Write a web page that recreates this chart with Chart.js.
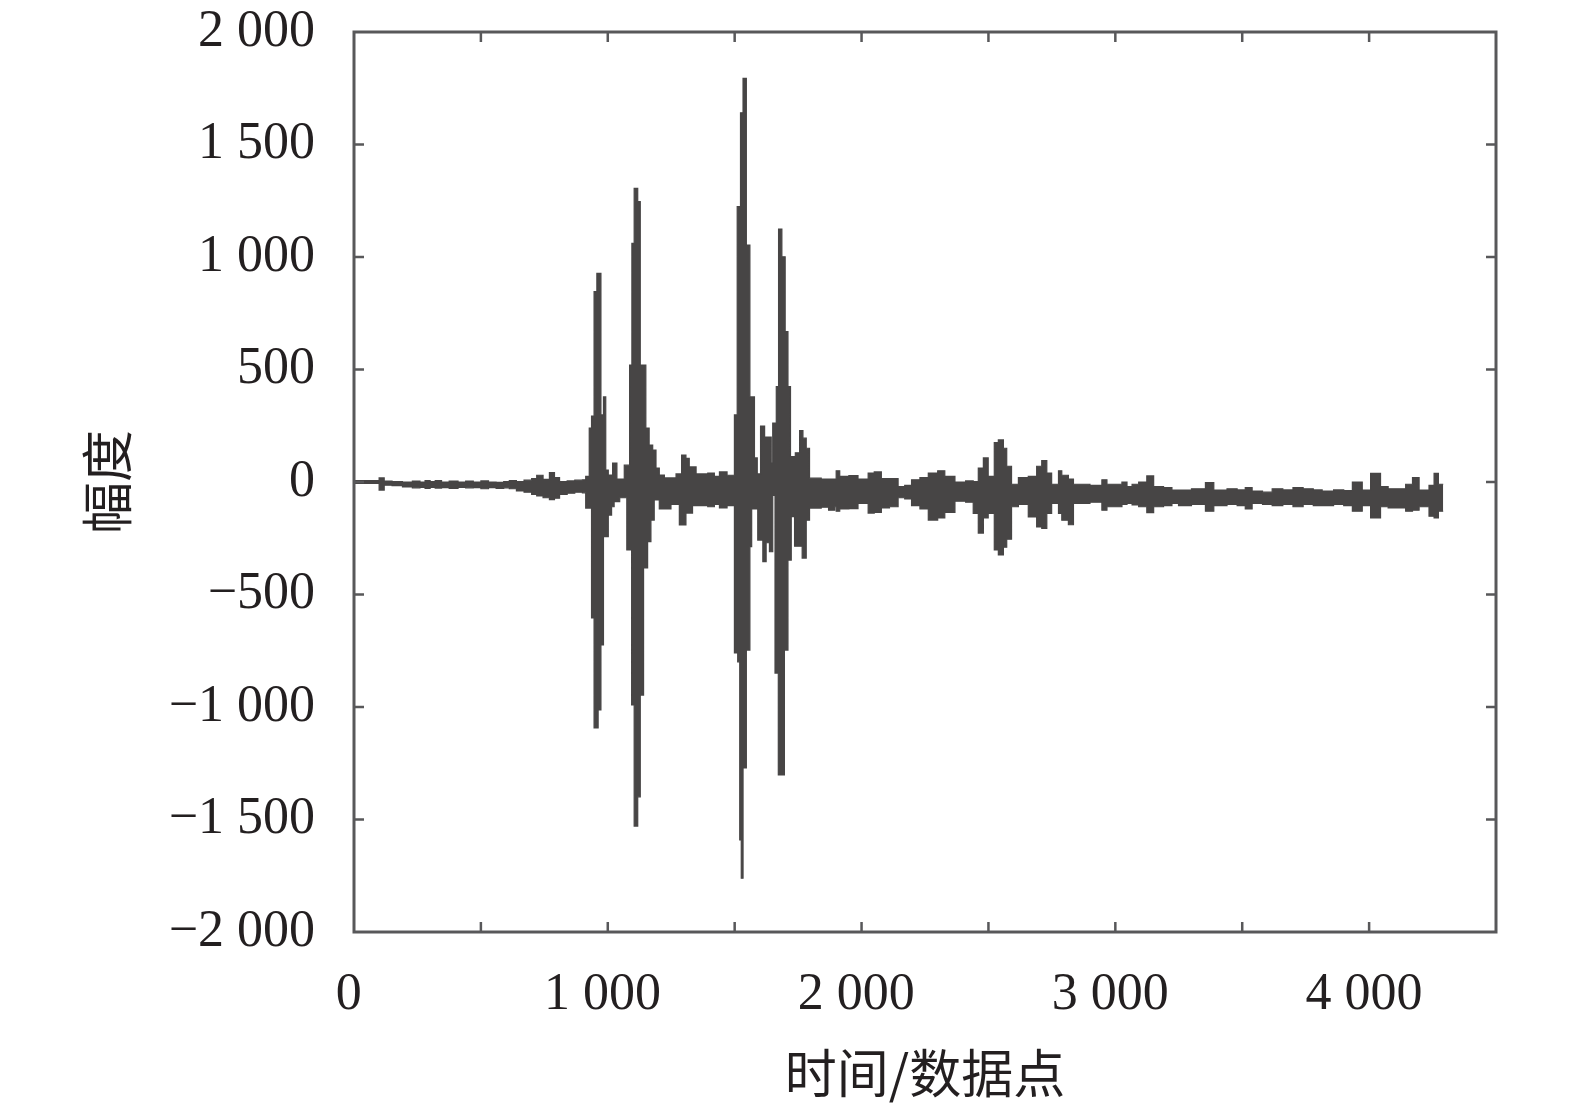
<!DOCTYPE html>
<html>
<head>
<meta charset="utf-8">
<script src="https://cdn.jsdelivr.net/npm/chart.js@4.4.1/dist/chart.umd.min.js"></script>
<style>
  html, body { margin: 0; padding: 0; background: #ffffff; }
  #wrap { width: 1575px; height: 1112px; }
</style>
</head>
<body>
<div id="wrap"><canvas id="c" width="1575" height="1112"></canvas></div>
<script>
// Sample index (time / data point) of each envelope breakpoint
const sampleIndex = [
  0,99,119,150,191,230,260,280,300,320,
  345,375,410,440,470,500,530,560,590,612,
  640,670,700,720,745,770,790,810,840,870,
  900,913,927,936,946,957,962,973,983,992,
  1002,1015,1019,1025,1036,1047,1065,1075,1086,1094,
  1095,1104,1118,1128,1141,1150,1157,1163,1170,1177,
  1183,1190,1203,1223,1249,1269,1282,1291,1308,1321,
  1334,1348,1394,1420,1440,1470,1499,1510,1512,1520,
  1523,1526,1533,1546,1560,1567,1578,1589,1591,1602,
  1611,1618,1624,1637,1644,1650,1659,1664,1672,1673,
  1686,1696,1699,1710,1720,1723,1736,1739,1756,1766,
  1769,1782,1795,1841,1870,1894,1900,1914,1950,1986,
  2026,2050,2078,2110,2144,2170,2197,2230,2263,2300,
  2328,2368,2410,2440,2460,2480,2499,2523,2539,2559,
  2572,2591,2618,2657,2690,2710,2730,2749,2776,2789,
  2815,2835,2855,2900,2947,2967,3026,3046,3066,3092,
  3124,3151,3190,3223,3249,3300,3355,3388,3440,3480,
  3512,3539,3580,3618,3660,3700,3740,3780,3815,3860,
  3900,3934,3973,4006,4045,4075,4105,4144,4171,4197,
  4236,4256,4273,4292
];
// Upper envelope (max amplitude) of the waveform over each step
const upperEnvelope = [
  6,18,4,2,0,4,0,6,2,6,
  0,4,0,4,0,5,0,-2,2,6,
  2,8,15,30,12,42,20,2,5,8,
  10,25,240,293,846,927,927,298,378,53,
  31,31,84,84,13,13,75,75,520,520,
  1061,1305,1246,520,520,240,240,164,164,142,
  142,62,31,18,18,36,36,120,105,67,
  67,36,40,25,45,30,298,1224,1224,1224,
  1641,1641,1794,1053,378,378,107,36,36,249,
  249,200,200,200,84,262,262,424,424,1124,
  1001,1001,668,424,113,113,113,130,228,228,
  195,150,17,13,13,13,50,25,28,13,
  40,45,15,15,-20,-15,10,20,40,50,
  25,0,5,2,62,107,25,175,187,150,
  70,-10,20,25,70,95,40,-10,50,30,
  13,-10,-10,-15,10,-10,0,-20,-10,0,
  27,-20,-25,-36,-36,-30,-3,-36,-30,-35,
  -25,-40,-45,-30,-35,-25,-30,-35,-40,-35,
  -38,0,-36,38,-20,-30,-30,-10,20,-36,
  -15,38,-10,-10
];
// Lower envelope (min amplitude) of the waveform over each step
const lowerEnvelope = [
  -6,-36,-14,-16,-22,-26,-24,-28,-24,-27,
  -25,-28,-24,-26,-25,-30,-25,-28,-26,-30,
  -40,-45,-55,-62,-70,-78,-72,-55,-50,-45,
  -48,-116,-116,-604,-1093,-1093,-1013,-724,-243,-243,
  -147,-110,-110,-87,-87,-70,-70,-302,-302,-991,
  -991,-1529,-1399,-947,-382,-382,-265,-265,-169,-169,
  -80,-80,-120,-120,-100,-100,-191,-191,-138,-138,
  -105,-105,-110,-100,-115,-105,-760,-760,-799,-1591,
  -1591,-1761,-1271,-747,-287,-120,-120,-120,-258,-258,
  -354,-354,-270,-310,-310,-60,-849,-849,-1302,-1302,
  -1302,-747,-747,-347,-347,-154,-285,-285,-285,-338,
  -338,-170,-116,-112,-125,-110,-130,-120,-118,-95,
  -138,-135,-115,-110,-70,-75,-105,-120,-169,-160,
  -135,-85,-90,-140,-227,-160,-140,-302,-324,-290,
  -254,-110,-100,-155,-200,-206,-140,-95,-140,-170,
  -190,-95,-95,-90,-125,-110,-100,-95,-102,-110,
  -136,-110,-105,-95,-105,-100,-130,-105,-100,-105,
  -120,-95,-100,-105,-100,-110,-100,-105,-105,-100,
  -105,-130,-105,-160,-110,-115,-115,-130,-125,-110,
  -152,-160,-130,-130
];
const xTickValues = [0, 1000, 2000, 3000, 4000];
const xTickMarks = [0, 500, 1000, 1500, 2000, 2500, 3000, 3500, 4000, 4500];
const yTickValues = [-2000, -1500, -1000, -500, 0, 500, 1000, 1500, 2000];
const xTitle = '时间/数据点';
const yTitle = '幅度';

const WAVE = '#474545';
const TEXT = '#231f20';
const FRAME = '#58585a';
const SERIF = '"Liberation Serif", "DejaVu Serif", serif';
const CJK = '"Noto Sans CJK SC", "Noto Sans", sans-serif';

function fmt(v) {
  const s = Math.abs(v).toString().replace(/\B(?=(\d{3})+(?!\d))/g, ' ');
  return (v < 0 ? '\u2212' : '') + s;
}

const n = Math.min(sampleIndex.length, upperEnvelope.length, lowerEnvelope.length);
const upperPts = [], lowerPts = [];
for (let i = 0; i < n; i++) {
  upperPts.push({ x: sampleIndex[i], y: upperEnvelope[i] });
  lowerPts.push({ x: sampleIndex[i], y: lowerEnvelope[i] });
}

const frameTicks = {
  id: 'frameTicks',
  afterDatasetsDraw(chart) {
    const { ctx, chartArea: a, scales } = chart;
    const xs = scales.x, ys = scales.y;
    const L = 10;
    ctx.save();
    ctx.strokeStyle = FRAME;
    ctx.lineWidth = 2.5;
    ctx.beginPath();
    xs.ticks.forEach(t => {
      const p = xs.getPixelForValue(t.value);
      if (p <= a.left + 1 || p >= a.right - 1) return;
      ctx.moveTo(p, a.bottom); ctx.lineTo(p, a.bottom - L);
      ctx.moveTo(p, a.top); ctx.lineTo(p, a.top + L);
    });
    ys.ticks.forEach(t => {
      const p = ys.getPixelForValue(t.value);
      if (p <= a.top + 1 || p >= a.bottom - 1) return;
      ctx.moveTo(a.left, p); ctx.lineTo(a.left + L, p);
      ctx.moveTo(a.right, p); ctx.lineTo(a.right - L, p);
    });
    ctx.stroke();
    ctx.lineWidth = 3;
    ctx.strokeRect(a.left, a.top, a.right - a.left, a.bottom - a.top);
    ctx.restore();
  }
};

new Chart(document.getElementById('c'), {
  type: 'line',
  data: {
    datasets: [
      { label: 'upper', data: upperPts, stepped: true, fill: '+1',
        borderColor: WAVE, backgroundColor: WAVE, borderWidth: 1.2, pointRadius: 0 },
      { label: 'lower', data: lowerPts, stepped: true, fill: false,
        borderColor: WAVE, backgroundColor: WAVE, borderWidth: 1.2, pointRadius: 0 }
    ]
  },
  options: {
    responsive: false,
    animation: false,
    devicePixelRatio: 1,
    layout: { padding: { left: 0, top: 32, right: 79, bottom: 0 } },
    plugins: { legend: { display: false }, tooltip: { enabled: false } },
    scales: {
      x: {
        type: 'linear', min: 0, max: 4500,
        grid: { display: false, drawTicks: false }, border: { display: false },
        afterBuildTicks: s => { s.ticks = xTickMarks.map(v => ({ value: v })); },
        ticks: {
          autoSkip: false, maxRotation: 0, minRotation: 0, padding: 32, color: TEXT,
          font: { family: SERIF, size: 52 },
          callback: v => xTickValues.includes(v) ? fmt(v) + '\u2009' : ''
        },
        title: { display: true, text: xTitle, color: TEXT, font: { family: CJK, size: 52 }, padding: { top: 0, bottom: 8 } },
        afterFit: s => { s.height = 1112 - 932; s.paddingLeft = 0; s.paddingRight = 0; }
      },
      y: {
        type: 'linear', min: -2000, max: 2000,
        grid: { display: false, drawTicks: false }, border: { display: false },
        afterBuildTicks: s => { s.ticks = yTickValues.map(v => ({ value: v })); },
        ticks: {
          autoSkip: false, padding: 39, color: TEXT,
          font: { family: SERIF, size: 52 },
          callback: v => fmt(v)
        },
        title: { display: true, text: yTitle, color: TEXT, font: { family: CJK, size: 52 }, padding: { top: 76, bottom: 0 } },
        afterFit: s => { s.width = 354; s.paddingTop = 0; s.paddingBottom = 0; }
      }
    }
  },
  plugins: [frameTicks]
});
</script>
</body>
</html>
